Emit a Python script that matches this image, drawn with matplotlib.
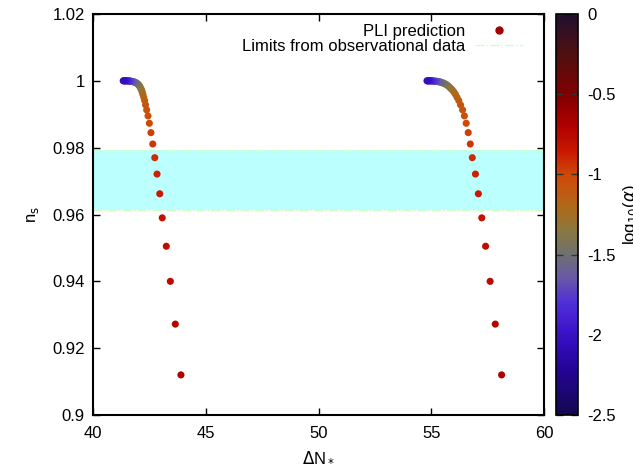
import numpy as np
import matplotlib
matplotlib.use('Agg')
import matplotlib.pyplot as plt
from matplotlib.colors import LinearSegmentedColormap, Normalize
from matplotlib.lines import Line2D
from matplotlib.ticker import FuncFormatter

plt.rcParams['font.family'] = ['Liberation Sans', 'DejaVu Sans']
plt.rcParams['font.size'] = 12
plt.rcParams['axes.unicode_minus'] = False

# PLI prediction: n_s, Delta N (two branches), log10(alpha)
ns = [0.9120, 0.9272, 0.9400, 0.9505, 0.9590, 0.9662, 0.9721, 0.9770, 0.9811, 0.9845,
      0.9873, 0.9895, 0.9913, 0.9928, 0.9941, 0.9951, 0.9960, 0.9967, 0.9973, 0.9977,
      0.9981, 0.9985, 0.9987, 0.9990, 0.9991, 0.9993, 0.9994, 0.9995, 0.9996, 0.9997,
      0.9997, 0.9998, 0.9998, 0.9999, 0.9999, 0.9999, 0.9999, 1.0000, 1.0000, 1.0000,
      1.0000, 1.0000, 1.0000, 1.0000, 1.0000, 1.0000]
dN_left = [43.90, 43.65, 43.43, 43.25, 43.07, 42.96, 42.84, 42.74, 42.65, 42.57,
           42.50, 42.44, 42.38, 42.33, 42.29, 42.25, 42.21, 42.18, 42.15, 42.12,
           42.09, 42.06, 42.03, 42.00, 41.97, 41.94, 41.91, 41.88, 41.85, 41.82,
           41.79, 41.76, 41.73, 41.70, 41.67, 41.64, 41.61, 41.58, 41.55, 41.52,
           41.49, 41.46, 41.43, 41.40, 41.37, 41.34]
dN_right = [58.12, 57.84, 57.61, 57.41, 57.24, 57.09, 56.96, 56.82, 56.73, 56.64,
            56.55, 56.47, 56.39, 56.30, 56.22, 56.14, 56.07, 56.00, 55.93, 55.87,
            55.81, 55.75, 55.70, 55.65, 55.60, 55.55, 55.50, 55.46, 55.42, 55.38,
            55.34, 55.30, 55.26, 55.22, 55.18, 55.14, 55.10, 55.06, 55.02, 54.99,
            54.96, 54.93, 54.90, 54.87, 54.84, 54.81]
log_alpha = [-0.70, -0.73, -0.76, -0.79, -0.82, -0.85, -0.88, -0.91, -0.94, -0.97,
             -1.00, -1.03, -1.06, -1.09, -1.12, -1.15, -1.18, -1.21, -1.24, -1.27,
             -1.30, -1.33, -1.36, -1.39, -1.42, -1.45, -1.48, -1.51, -1.54, -1.57,
             -1.60, -1.63, -1.66, -1.69, -1.72, -1.75, -1.78, -1.81, -1.84, -1.87,
             -1.90, -1.93, -1.96, -1.99, -2.02, -2.05]

# observational limits on n_s
ns_low, ns_high = 0.9612, 0.9792

# palette (log10 alpha from -2.5 to 0)
pal_vals = [-2.5, -2.2, -2.0, -1.8, -1.65, -1.5, -1.35, -1.2, -1.0, -0.85, -0.7, -0.5, -0.25, 0.0]
pal_cols = ['#150850', '#24049a', '#3a10c8', '#5030d8', '#6858a8', '#707070', '#8a7840',
            '#b06818', '#d04808', '#c81800', '#b00000', '#800000', '#501010', '#201030']
cmap = LinearSegmentedColormap.from_list(
    'pli', [((v + 2.5) / 2.5, c) for v, c in zip(pal_vals, pal_cols)])
norm = Normalize(vmin=-2.5, vmax=0)

fig = plt.figure(figsize=(6.33, 4.68), dpi=100)
ax = fig.add_axes([93 / 633, 53 / 468, 451 / 633, 401 / 468])
cax = fig.add_axes([556 / 633, 53 / 468, 22 / 633, 401 / 468])

# observational band
ax.fill_between([40, 60], ns_low, ns_high, color='#bbffff', lw=0, zorder=1)
ax.axhline(ns_low, color='#ccffcc', ls='-.', lw=1, zorder=1)
ax.axhline(ns_high, color='#ccffcc', ls='-.', lw=1, zorder=1)

# predictions
for dN in [dN_left, dN_right]:
    sc = ax.scatter(dN, ns, c=log_alpha, cmap=cmap, norm=norm, s=26, lw=0, zorder=3)

ax.set_xlim(40, 60)
ax.set_ylim(0.9, 1.02)
ax.set_xticks([40, 45, 50, 55, 60])
ax.set_yticks([0.9, 0.92, 0.94, 0.96, 0.98, 1.0, 1.02])
fmt = FuncFormatter(lambda v, p: '%g' % round(v, 4))
ax.xaxis.set_major_formatter(fmt)
ax.yaxis.set_major_formatter(fmt)
ax.tick_params(direction='in', length=5, width=1, top=True, right=True, pad=6)
ax.tick_params(axis='x', pad=8)
for sp in ax.spines.values():
    sp.set_linewidth(1.5)

ax.set_xlabel(r'$\Delta$N$_*$', labelpad=6)
ax.set_ylabel(r'n$_{\rm s}$', labelpad=8)

# legend
handles = [Line2D([], [], marker='o', ls='none', color='#a00000', ms=5),
           Line2D([], [], color='#ccffcc', ls='-.', lw=1)]
ax.legend(handles, ['PLI prediction', 'Limits from observational data'],
          loc='upper right', bbox_to_anchor=(0.954, 0.975), frameon=False,
          markerfirst=False, borderaxespad=0, borderpad=0, handlelength=2.9,
          labelspacing=0.0, handletextpad=0.6)

# colour box
cb = fig.colorbar(sc, cax=cax)
cb.set_ticks([0, -0.5, -1, -1.5, -2, -2.5])
cb.ax.yaxis.set_major_formatter(FuncFormatter(lambda v, p: '%g' % v))
cb.ax.tick_params(direction='in', length=5, width=1, left=True, right=True,
                  color='#333333', pad=7)
cb.outline.set_linewidth(1.2)
cb.set_label(r'log$_{10}$($\alpha$)')
cb.ax.yaxis.set_label_coords(2.95, 0.5)

fig.savefig('out.png', dpi=100)
